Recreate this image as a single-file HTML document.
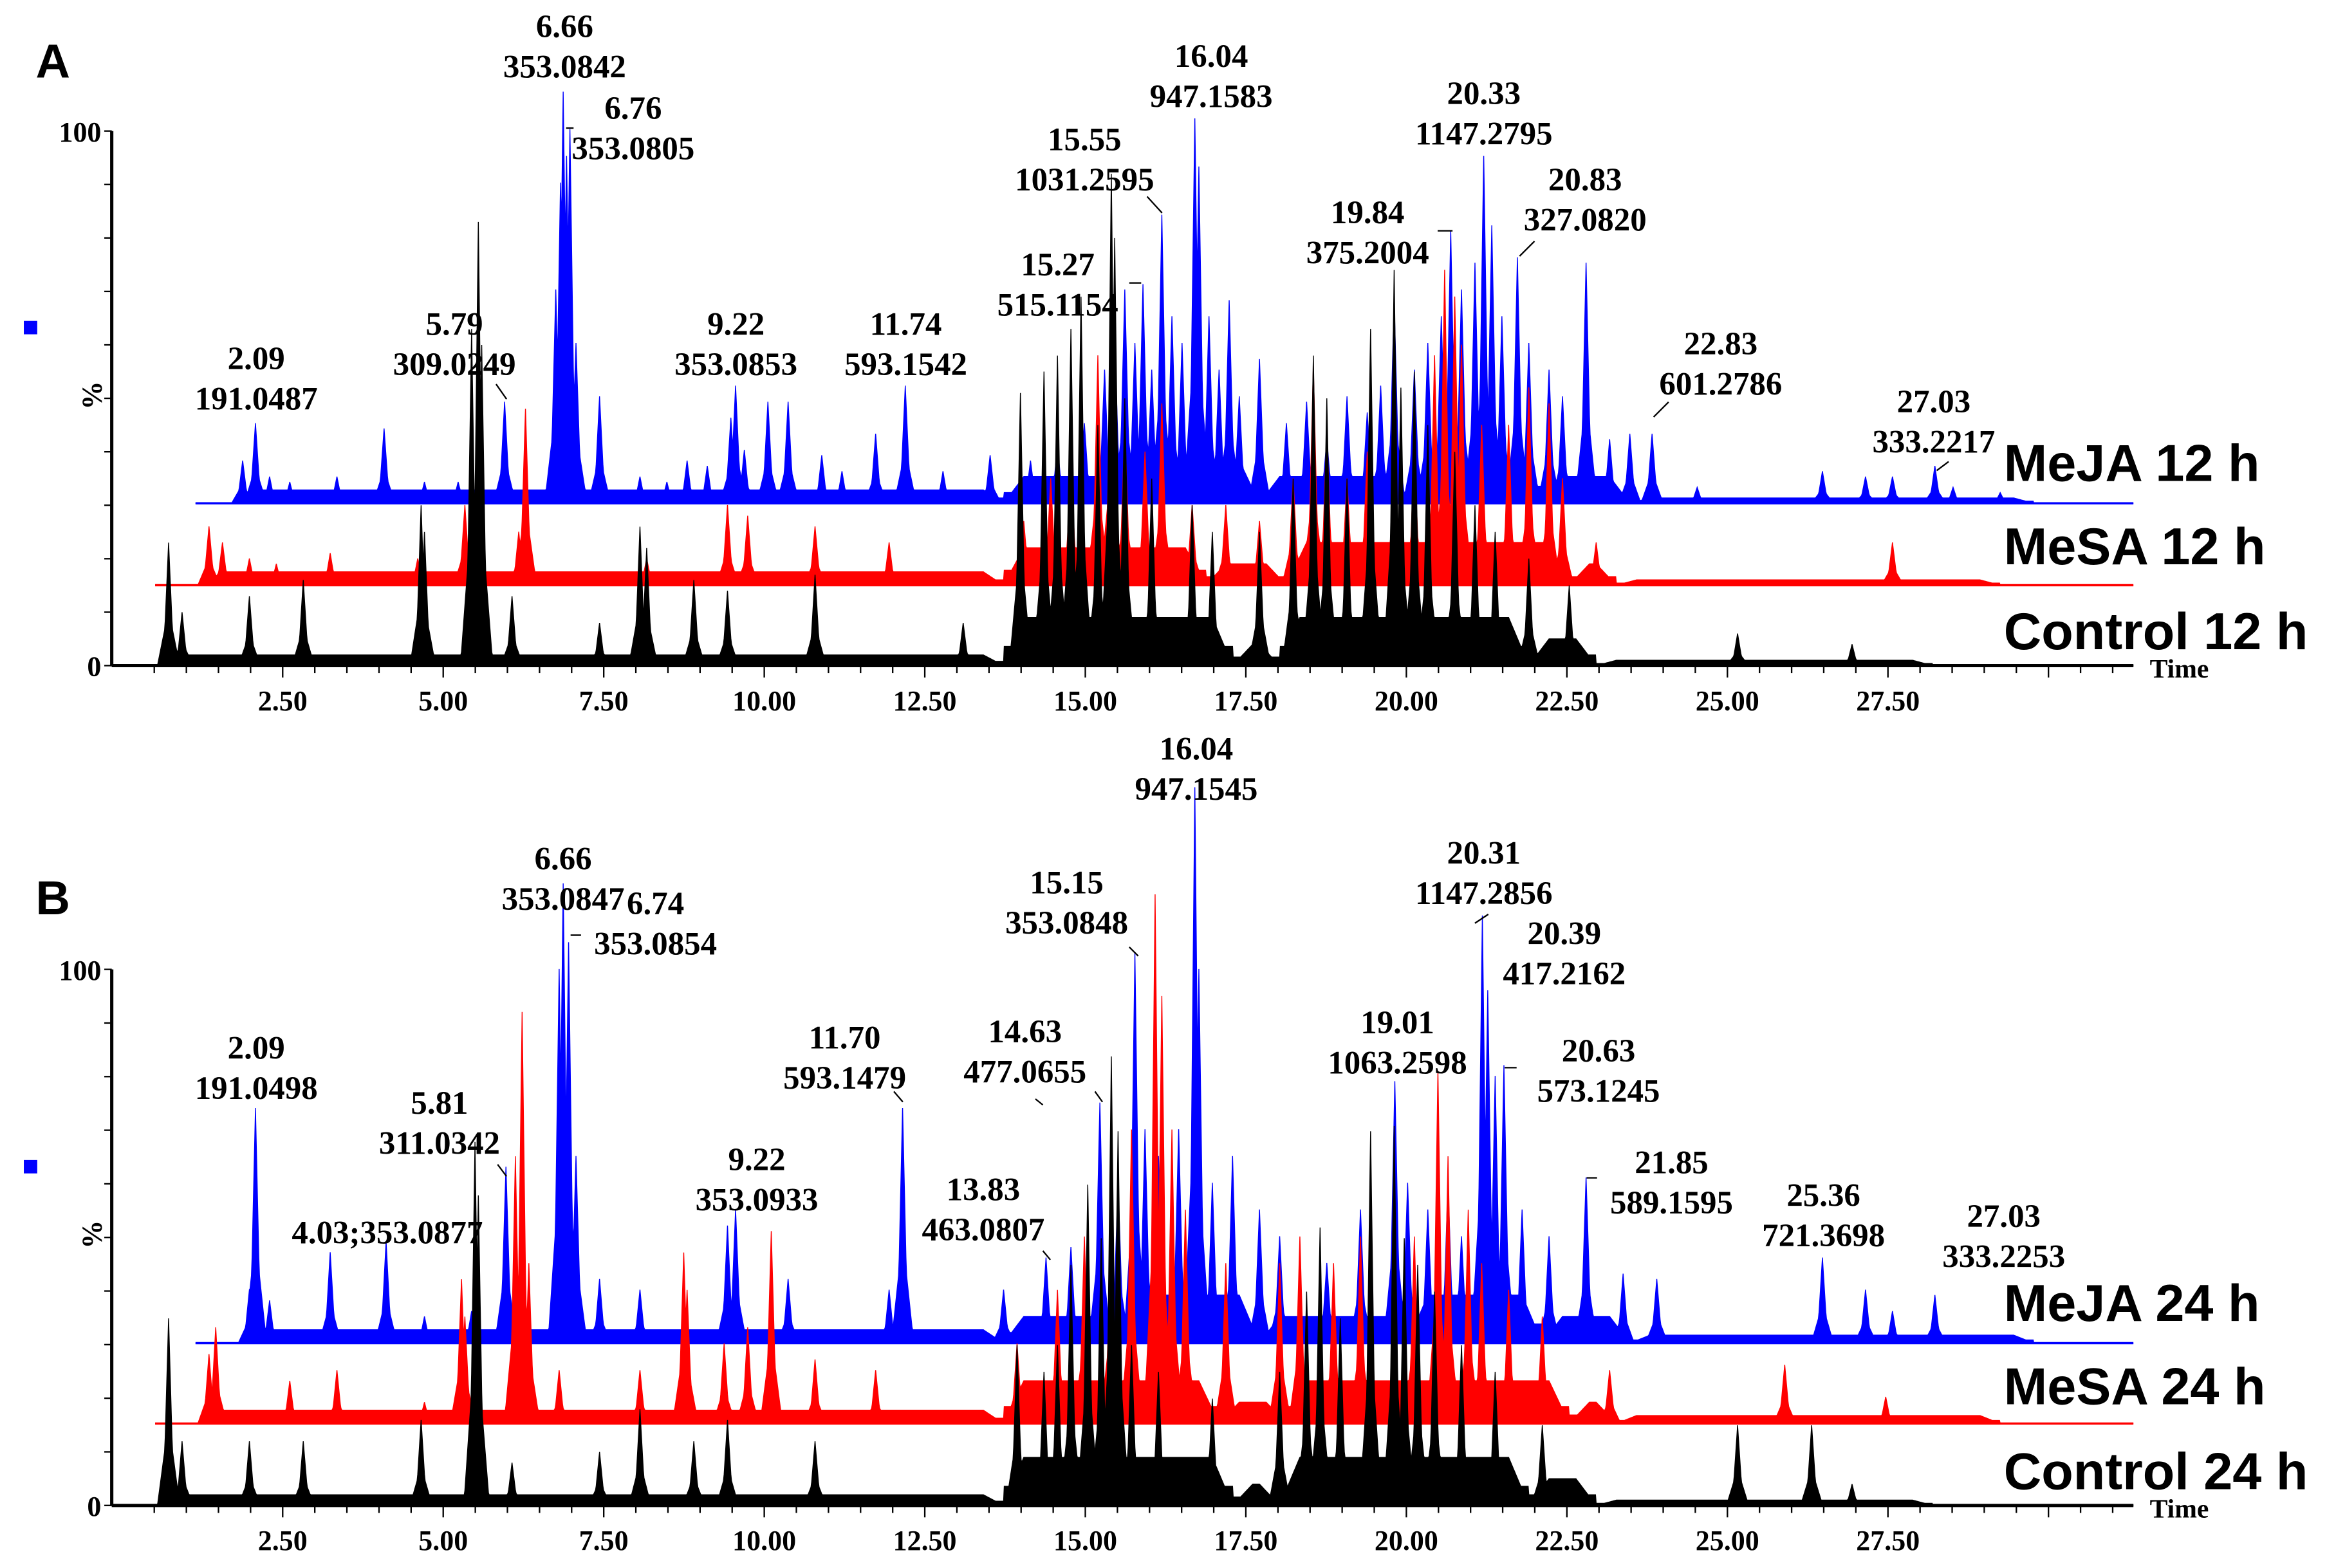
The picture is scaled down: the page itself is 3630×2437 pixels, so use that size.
<!DOCTYPE html>
<html><head><meta charset="utf-8">
<style>
html,body{margin:0;padding:0;background:#fff;}
svg{display:block;}
.ann{font-family:"Liberation Serif",serif;font-weight:bold;font-size:22px;fill:#000;text-anchor:middle;}
.tick{font-family:"Liberation Serif",serif;font-weight:bold;font-size:19px;fill:#000;text-anchor:middle;}
.name{font-family:"Liberation Sans",sans-serif;font-weight:bold;font-size:35px;fill:#000;}
.panel{font-family:"Liberation Sans",sans-serif;font-weight:bold;font-size:32px;fill:#000;}
</style></head>
<body>
<svg id="chart" xmlns="http://www.w3.org/2000/svg" width="3630" height="2437" viewBox="0 0 1568 1053" preserveAspectRatio="none">
<rect x="0" y="0" width="1568" height="1053" fill="#fff"/>
</svg>
<script>
// ---- data: retention time (min) and relative intensity (%) ----
const xTicks = [2.5,5,7.5,10,12.5,15,17.5,20,22.5,25,27.5];
const xTickLabels = ["2.50","5.00","7.50","10.00","12.50","15.00","17.50","20.00","22.50","25.00","27.50"];

const mejaA_t = [1.9,2.09,2.3,2.6,3.3,4.0,4.6,5.1,5.79,6.55,6.62,6.66,6.71,6.76,6.85,7.2,7.8,8.2,8.5,8.8,9.15,9.22,9.35,9.7,10.0,10.5,10.8,11.3,11.74,12.3,13.0,13.6,14.0,14.4,14.7,14.85,15.0,15.15,15.27,15.4,15.55,15.7,15.85,16.04,16.1,16.25,16.4,16.55,16.7,17.0,17.4,17.7,18.0,18.3,18.6,18.8,19.0,19.3,19.5,19.7,19.84,20.0,20.2,20.33,20.45,20.6,20.83,21.0,21.3,21.5,21.85,22.2,22.5,22.83,23.5,25.36,26.0,26.4,27.03,27.3,28.0];
const mejaA_v = [8,15,5,4,5,14,4,4,19,40,60,77,65,70,30,20,5,4,8,7,16,22,10,19,19,9,6,13,22,6,9,8,11,15,25,30,40,30,41,25,54,35,30,72,63,35,25,38,20,27,15,19,12,20,17,22,38,25,30,35,51,40,45,65,52,35,46,30,25,20,45,12,13,13,3,6,5,5,7,3,2];
const mesaA_t = [1.4,1.6,2.0,2.4,3.2,4.5,5.2,5.35,6.0,6.1,7.9,9.1,9.4,10.4,11.5,13.5,13.9,14.2,14.6,14.8,15.0,15.3,15.55,16.0,16.5,17.0,17.5,17.8,18.0,18.3,18.6,19.0,19.3,19.6,19.75,19.9,20.0,20.3,20.7,21.0,21.3,21.5,22.0,26.4];
const mesaA_v = [11,8,5,4,6,5,15,12,10,33,5,15,13,11,8,12,20,25,43,50,30,25,34,15,15,12,20,41,30,20,25,25,25,43,59,54,45,30,30,37,34,20,8,8];
const ctrlA_t = [0.8,1.0,2.0,2.8,4.55,4.6,5.3,5.4,5.45,5.9,7.2,7.8,7.9,8.6,9.1,10.4,12.6,13.45,13.8,14.0,14.2,14.35,14.6,14.8,14.85,15.0,15.4,16.0,16.3,17.0,17.5,17.8,18.0,18.3,18.65,19.0,19.1,19.3,19.5,19.9,20.2,20.5,21.0,21.6,24.1,25.8];
const ctrlA_v = [23,10,13,16,30,25,63,83,60,13,8,26,22,16,14,17,8,51,55,58,63,69,45,92,80,50,35,30,25,25,35,58,50,35,63,74,52,55,45,40,30,25,20,15,6,4];

const mejaB_t = [2.0,2.09,2.3,3.2,4.03,4.6,5.3,5.81,6.6,6.66,6.74,6.85,7.2,7.8,9.1,9.22,10.0,11.5,11.7,13.2,13.83,14.2,14.63,14.9,15.15,15.3,15.5,15.8,16.04,16.1,16.3,16.6,17.0,17.3,18.0,18.5,19.01,19.2,19.5,19.8,20.0,20.31,20.39,20.5,20.63,20.9,21.3,21.85,22.4,22.9,25.36,26.0,26.4,27.03];
const mejaB_v = [10,44,8,17,19,5,6,33,70,86,75,35,12,10,22,25,12,10,44,10,16,18,45,30,73,40,35,40,104,70,30,35,25,20,15,25,49,30,25,30,20,80,66,50,52,25,20,31,13,12,16,10,6,9];
const mesaB_t = [1.4,1.5,2.6,3.3,4.6,5.15,5.2,5.95,6.05,6.15,6.6,7.8,8.45,8.5,9.05,9.4,9.75,10.4,11.3,13.4,14.0,14.4,14.8,15.1,15.45,15.55,15.7,15.9,16.5,17.3,17.6,18.1,18.5,19.3,19.65,19.8,20.1,20.3,20.7,21.2,22.2,24.8,26.3];
const mesaB_v = [13,18,8,10,4,27,20,50,77,30,10,10,32,25,15,18,36,12,10,15,25,35,43,55,99,80,55,40,30,30,35,30,35,35,66,50,40,30,25,20,10,11,5];
const ctrlB_t = [0.8,1.0,2.0,2.8,4.55,5.35,5.4,5.9,7.2,7.8,8.6,9.1,10.4,13.4,13.8,14.0,14.2,14.45,14.65,14.8,14.9,15.1,15.5,16.3,17.3,17.7,17.9,18.2,18.65,19.0,19.15,19.35,19.6,20.0,20.5,21.2,24.1,25.2,25.8];
const ctrlB_v = [35,12,12,12,16,68,58,8,10,18,12,16,12,30,25,30,45,60,50,84,70,30,25,20,25,40,52,35,70,71,50,45,40,30,25,15,15,15,4];

// background grass levels: [start, end, %]
const grassMejaA = [[1.9,13.2,2.5],[13.2,15.5,5],[15.5,17,8],[17,19.2,5],[19.2,21.2,8],[21.2,22.5,5],[22.5,28.5,1]];
const grassMesaA = [[1.3,13.2,2.5],[13.2,16.2,7],[16.2,17.4,4],[17.4,21.6,8],[21.6,22.3,4],[22.3,28,1]];
const grassCtrlA = [[0.7,13.2,2],[13.2,16.6,9],[16.6,17.3,4],[17.3,21,9],[21,22,5],[22,27,1]];
const grassMejaB = [[1.9,13.2,2.5],[13.2,15,5],[15,17,9],[17,19.2,5],[19.2,21.2,9],[21.2,22.5,5],[22.5,28.5,1.5]];
const grassMesaB = [[1.3,13.2,2.5],[13.2,16.4,8],[16.4,17.4,4],[17.4,21.6,8],[21.6,22.3,4],[22.3,28,1.5]];
const grassCtrlB = [[0.7,13.2,2],[13.2,16.6,9],[16.6,17.3,4],[17.3,21,9],[21,22,5],[22,27,1]];

// ---- drawing ----
const svg = document.getElementById('chart');
const NS = 'http://www.w3.org/2000/svg';
const T0 = 77, PXMIN = 45.2, PCT = 3.59;
function xs(t){ return T0 + t*PXMIN; }          // data scale
function xTickPos(v){ return 82 + v*43.1; }     // printed axis labels
function mk(tag, attrs, parent){
  const e = document.createElementNS(NS, tag);
  for (const k in attrs) e.setAttribute(k, attrs[k]);
  (parent||svg).appendChild(e); return e;
}
function trace(times, vals, grass, base, start, color, name){
  const step = 0.01, hw = 0.055, tEnd = (1432 - T0)/PXMIN;
  const pts = [];
  for (let t = start; t <= tEnd + 1e-9; t += step){
    let v = 0;
    for (const g of grass){
      if (t >= g[0] && t <= g[1]){
        const r = Math.min(1, (t-g[0])/0.3, (g[1]-t)/0.3);
        v = Math.max(v, g[2]*Math.max(0.4, r));
      }
    }
    for (let i=0;i<times.length;i++){
      const d = Math.abs(t - times[i]);
      if (d < hw*3){
        const s = d < hw ? vals[i]*(1 - d/hw*0.7) : vals[i]*0.3*(1-(d-hw)/(hw*2));
        v = Math.max(v, s);
      }
    }
    pts.push(xs(t).toFixed(2)+','+(base - v*PCT).toFixed(2));
  }
  const d = 'M'+xs(start).toFixed(2)+','+base+' L'+pts.join(' L')+' L1432,'+base+' Z';
  const p = mk('path', {d:d, fill:color, stroke:color, 'stroke-width':0.6});
  
  
  const bl = mk('line', {x1:xs(start), y1:base, x2:1432, y2:base, stroke:color, 'stroke-width':1.5});
  
  
}
function axes(y100, y0, prefix){
  const g = mk('g', {});
  
  
  mk('line', {x1:75, y1:y100, x2:75, y2:y0, stroke:'#000', 'stroke-width':2.2}, g);
  mk('line', {x1:75, y1:y0, x2:1432, y2:y0, stroke:'#000', 'stroke-width':2.2}, g);
  for (let k=0;k<=10;k++){
    const y = y0 - (y0-y100)*k/10;
    mk('line', {x1:70, y1:y, x2:75, y2:y, stroke:'#000', 'stroke-width':1}, g);
  }
  for (let t=0.5;t<=31;t+=0.5){
    const major = Math.abs(t/2.5 - Math.round(t/2.5)) < 1e-6;
    mk('line', {x1:xTickPos(t), y1:y0, x2:xTickPos(t), y2:y0+(major?8:5), stroke:'#000', 'stroke-width':1}, g);
  }
  xTicks.forEach((t,i)=>{
    const tx = mk('text', {x:xTickPos(t), y:y0+30, class:'tick'}, g);
    tx.textContent = xTickLabels[i];
    
    
  });
  const l100 = mk('text', {x:68, y:y100+7, class:'tick', style:'text-anchor:end'}, g); l100.textContent='100';
  const l0 = mk('text', {x:68, y:y0+7, class:'tick', style:'text-anchor:end'}, g); l0.textContent='0';
  const pc = mk('text', {x:0, y:0, class:'tick', transform:'translate(68,'+((y100+y0)/2-2)+') rotate(-90)'}, g); pc.textContent='%';
  const tm = mk('text', {x:1443, y:y0+8, class:'tick', style:'text-anchor:start;font-size:18px'}, g); tm.textContent='Time';
  mk('rect', {x:16, y:(y100+y0)/2 - 52, width:9, height:9, fill:'#00f'}, g);
}

// Panel A
axes(88, 447, 'panel-a');
trace(mejaA_t, mejaA_v, grassMejaA, 338, 1.2, '#0000ff', 'meja-12h-trace');
trace(mesaA_t, mesaA_v, grassMesaA, 393, 0.6, '#ff0000', 'mesa-12h-trace');
trace(ctrlA_t, ctrlA_v, grassCtrlA, 447, 0, '#000000', 'control-12h-trace');
// Panel B
axes(651, 1011, 'panel-b');
trace(mejaB_t, mejaB_v, grassMejaB, 902, 1.2, '#0000ff', 'meja-24h-trace');
trace(mesaB_t, mesaB_v, grassMesaB, 956, 0.6, '#ff0000', 'mesa-24h-trace');
trace(ctrlB_t, ctrlB_v, grassCtrlB, 1011, 0, '#000000', 'control-24h-trace');

// annotations [x, y1, line1, line2]
const annA = [[379,25,"6.66","353.0842"],[425,80,"6.76","353.0805"],[813,45,"16.04","947.1583"],[728,101,"15.55","1031.2595"],[710,185,"15.27","515.1154"],[996,70,"20.33","1147.2795"],[918,150,"19.84","375.2004"],[1064,128,"20.83","327.0820"],[172,248,"2.09","191.0487"],[305,225,"5.79","309.0249"],[494,225,"9.22","353.0853"],[608,225,"11.74","593.1542"],[1155,238,"22.83","601.2786"],[1298,277,"27.03","333.2217"]];
const annB = [[803,510,"16.04","947.1545"],[378,584,"6.66","353.0847"],[440,614,"6.74","353.0854"],[716,600,"15.15","353.0848"],[996,580,"20.31","1147.2856"],[1050,634,"20.39","417.2162"],[172,711,"2.09","191.0498"],[567,704,"11.70","593.1479"],[688,700,"14.63","477.0655"],[938,694,"19.01","1063.2598"],[1073,713,"20.63","573.1245"],[295,748,"5.81","311.0342"],[508,786,"9.22","353.0933"],[660,806,"13.83","463.0807"],[1122,788,"21.85","589.1595"],[1224,810,"25.36","721.3698"],[1345,824,"27.03","333.2253"]];
function annotate(list, prefix){
  list.forEach(a=>{
    const g = mk('g', {});
    
    
    const t1 = mk('text', {x:a[0], y:a[1], class:'ann'}, g); t1.textContent = a[2];
    const t2 = mk('text', {x:a[0], y:a[1]+27, class:'ann'}, g); t2.textContent = a[3];
  });
}
annotate(annA, 'panel-a');
annotate(annB, 'panel-b');
const single = mk('text', {x:260, y:835, class:'ann'}); single.textContent = '4.03;353.0877';



// leader lines
const leaders = [[385,86,380,86],[770,132,780,143],[758,190,766,190],[965,155,975,155],[1030,162,1020,172],[333,258,340,268],[1120,270,1110,280],[1308,310,1300,316],
                 [383,628,390,628],[758,636,764,642],[990,620,999,614],[1010,717,1018,717],[695,738,700,742],[334,782,340,790],[1065,791,1072,791],[735,733,740,740],[600,733,606,740],[700,840,705,846]];
leaders.forEach(l=>{
  const ln = mk('line', {x1:l[0], y1:l[1], x2:l[2], y2:l[3], stroke:'#000', 'stroke-width':1});
  
  
});

// trace names & panel letters
const names = [[1345,323,"MeJA 12 h"],[1345,379,"MeSA 12 h"],[1345,436,"Control 12 h"],[1345,887,"MeJA 24 h"],[1345,943,"MeSA 24 h"],[1345,1000,"Control 24 h"]];
names.forEach(n=>{
  const t = mk('text', {x:n[0], y:n[1], class:'name'}); t.textContent = n[2];
  
  
});
const pa = mk('text', {x:24, y:52, class:'panel'}); pa.textContent='A';


const pb = mk('text', {x:24, y:614, class:'panel'}); pb.textContent='B';


</script>
</body></html>
